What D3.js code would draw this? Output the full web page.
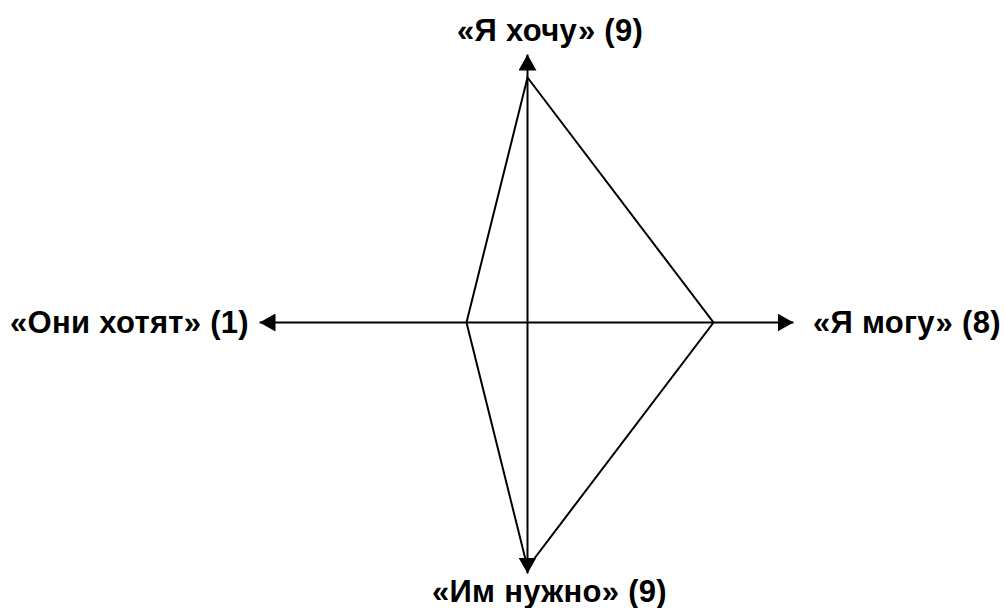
<!DOCTYPE html>
<html>
<head>
<meta charset="utf-8">
<script src="https://cdn.jsdelivr.net/npm/d3@7"></script>
<style>
  body { margin: 0; background: #fff; }
  text { font-family: "Liberation Sans", Arial, sans-serif; font-weight: bold; font-size: 31px; letter-spacing: 0.3px; fill: #000; }
</style>
</head>
<body>
<div class="chart"></div>
<script>
// axis names and scores
var axisNames = ["«Я хочу»", "«Я могу»", "«Им нужно»", "«Они хотят»"];
var axisValues = [9, 8, 9, 1];
var axisDirs = ["up", "right", "down", "left"];

var svgWidth = 1004;
var svgHeight = 608;

var center = { x: 527.5, y: 322.5 };

var svg = d3.select(".chart")
  .append("svg")
  .attr("width", svgWidth)
  .attr("height", svgHeight);

// vertical and horizontal axes use their own scales (as in the original sketch)
var vScale = d3.scaleLinear().domain([0, 9]).range([0, 245]);
var hScale = d3.scaleLinear().domain([1, 8]).range([61, 186]);

var axisLen = { up: 268, down: 251, left: 268, right: 266 };

function unit(dir) {
  if (dir === "up") return [0, -1];
  if (dir === "down") return [0, 1];
  if (dir === "left") return [-1, 0];
  return [1, 0];
}

function radius(dir, v) {
  return (dir === "up" || dir === "down") ? vScale(v) : hScale(v);
}

var defs = svg.append("defs");
defs.append("marker")
  .attr("id", "arrow")
  .attr("viewBox", "0 0 16 18")
  .attr("refX", 16)
  .attr("refY", 9)
  .attr("markerWidth", 16)
  .attr("markerHeight", 18)
  .attr("markerUnits", "userSpaceOnUse")
  .attr("orient", "auto")
  .append("path")
  .attr("d", "M0,0 L16,9 L0,18 Z")
  .attr("fill", "#000");

var g = svg.append("g");

// axes
g.selectAll("line.axis")
  .data(axisDirs)
  .enter()
  .append("line")
  .attr("class", "axis")
  .attr("x1", center.x)
  .attr("y1", center.y)
  .attr("x2", d => center.x + unit(d)[0] * axisLen[d])
  .attr("y2", d => center.y + unit(d)[1] * axisLen[d])
  .attr("stroke", "#000")
  .attr("stroke-width", 2)
  .attr("marker-end", "url(#arrow)");

// polygon of scores
var points = axisDirs.map(function(d, i) {
  var r = radius(d, axisValues[i]);
  return [center.x + unit(d)[0] * r, center.y + unit(d)[1] * r];
});

g.append("path")
  .attr("d", d3.line()(points) + "Z")
  .attr("fill", "none")
  .attr("stroke", "#000")
  .attr("stroke-width", 2)
  .attr("stroke-linejoin", "miter");

// labels
var labelPos = {
  up: { x: 457, y: 41, anchor: "start" },
  down: { x: 432, y: 602, anchor: "start" },
  left: { x: 249, y: 333, anchor: "end" },
  right: { x: 813, y: 333, anchor: "start" }
};

g.selectAll("text.label")
  .data(axisDirs)
  .enter()
  .append("text")
  .attr("class", "label")
  .attr("x", d => labelPos[d].x)
  .attr("y", d => labelPos[d].y)
  .attr("text-anchor", d => labelPos[d].anchor)
  .text((d, i) => axisNames[i] + " (" + axisValues[i] + ")");
</script>
</body>
</html>
